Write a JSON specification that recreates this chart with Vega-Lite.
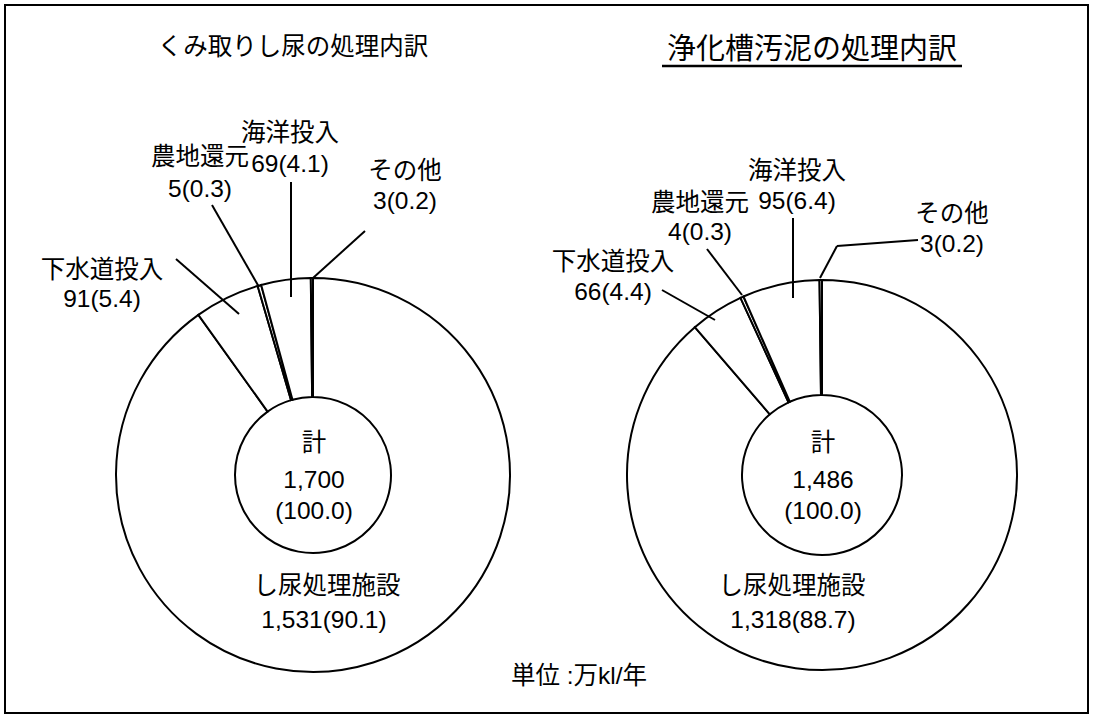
{
  "$schema": "https://vega.github.io/schema/vega-lite/v6.json",
  "width": 1093,
  "height": 718,
  "autosize": {"type": "fit", "contains": "padding"},
  "padding": 5,
  "background": "white",
  "config": {
    "view": {"stroke": "black", "strokeWidth": 2},
    "text": {"font": "Liberation Sans, Noto Sans CJK JP", "fontSize": 24.5, "color": "black", "align": "center", "baseline": "middle"},
    "rule": {"color": "black", "strokeWidth": 2}
  },
  "datasets": {
    "slices": [
      {"chart": "くみ取りし尿", "category": "し尿処理施設", "value": 1531, "pct": "1,531(90.1)", "order": 1},
      {"chart": "くみ取りし尿", "category": "下水道投入", "value": 91, "pct": "91(5.4)", "order": 2},
      {"chart": "くみ取りし尿", "category": "農地還元", "value": 5, "pct": "5(0.3)", "order": 3},
      {"chart": "くみ取りし尿", "category": "海洋投入", "value": 69, "pct": "69(4.1)", "order": 4},
      {"chart": "くみ取りし尿", "category": "その他", "value": 3, "pct": "3(0.2)", "order": 5},
      {"chart": "浄化槽汚泥", "category": "し尿処理施設", "value": 1318, "pct": "1,318(88.7)", "order": 1},
      {"chart": "浄化槽汚泥", "category": "下水道投入", "value": 66, "pct": "66(4.4)", "order": 2},
      {"chart": "浄化槽汚泥", "category": "農地還元", "value": 4, "pct": "4(0.3)", "order": 3},
      {"chart": "浄化槽汚泥", "category": "海洋投入", "value": 95, "pct": "95(6.4)", "order": 4},
      {"chart": "浄化槽汚泥", "category": "その他", "value": 3, "pct": "3(0.2)", "order": 5}
    ],
    "charts": [
      {"chart": "くみ取りし尿", "title": "くみ取りし尿の処理内訳", "total": "1,700", "share": "(100.0)"},
      {"chart": "浄化槽汚泥", "title": "浄化槽汚泥の処理内訳", "total": "1,486", "share": "(100.0)"}
    ]
  },
  "data": {"name": "slices"},
  "encoding": {
    "x": {"field": "chart", "type": "nominal", "axis": null, "scale": {"type": "point", "domain": ["くみ取りし尿", "浄化槽汚泥"], "range": [308, 817], "padding": 0}},
    "y": {"field": "chart", "type": "nominal", "axis": null, "scale": {"type": "point", "domain": ["くみ取りし尿", "浄化槽汚泥"], "range": [470, 470], "padding": 0}}
  },
  "layer": [
    {
      "transform": [{"filter": "datum.chart == 'くみ取りし尿'"}],
      "mark": {"type": "arc", "outerRadius": 197, "innerRadius": 78, "fill": "white", "stroke": "black", "strokeWidth": 2},
      "encoding": {
        "theta": {"field": "value", "type": "quantitative", "stack": "normalize"},
        "detail": {"field": "category"},
        "order": {"field": "order", "type": "quantitative"}
      }
    },
    {
      "transform": [{"filter": "datum.chart == '浄化槽汚泥'"}],
      "mark": {"type": "arc", "outerRadius": 195, "innerRadius": 80, "fill": "white", "stroke": "black", "strokeWidth": 2},
      "encoding": {
        "theta": {"field": "value", "type": "quantitative", "stack": "normalize"},
        "detail": {"field": "category"},
        "order": {"field": "order", "type": "quantitative"}
      }
    },
    {"transform": [{"filter": "datum.chart == 'くみ取りし尿' && datum.category == '下水道投入'"}], "mark": {"type": "rule", "xOffset": -137, "yOffset": -216, "x2Offset": -74, "y2Offset": -161}, "encoding": {"x2": {"field": "chart"}, "y2": {"field": "chart"}}},
    {"transform": [{"filter": "datum.chart == 'くみ取りし尿' && datum.category == '農地還元'"}], "mark": {"type": "rule", "xOffset": -101, "yOffset": -270, "x2Offset": -54, "y2Offset": -188}, "encoding": {"x2": {"field": "chart"}, "y2": {"field": "chart"}}},
    {"transform": [{"filter": "datum.chart == 'くみ取りし尿' && datum.category == '海洋投入'"}], "mark": {"type": "rule", "xOffset": -22, "yOffset": -293, "x2Offset": -22, "y2Offset": -178}, "encoding": {"x2": {"field": "chart"}, "y2": {"field": "chart"}}},
    {"transform": [{"filter": "datum.chart == 'くみ取りし尿' && datum.category == 'その他'"}], "mark": {"type": "rule", "xOffset": 52, "yOffset": -244, "x2Offset": 0, "y2Offset": -197}, "encoding": {"x2": {"field": "chart"}, "y2": {"field": "chart"}}},
    {"transform": [{"filter": "datum.chart == '浄化槽汚泥' && datum.category == '下水道投入'"}], "mark": {"type": "rule", "xOffset": -160, "yOffset": -185, "x2Offset": -107, "y2Offset": -155}, "encoding": {"x2": {"field": "chart"}, "y2": {"field": "chart"}}},
    {"transform": [{"filter": "datum.chart == '浄化槽汚泥' && datum.category == '農地還元'"}], "mark": {"type": "rule", "xOffset": -115, "yOffset": -226, "x2Offset": -80, "y2Offset": -180}, "encoding": {"x2": {"field": "chart"}, "y2": {"field": "chart"}}},
    {"transform": [{"filter": "datum.chart == '浄化槽汚泥' && datum.category == '海洋投入'"}], "mark": {"type": "rule", "xOffset": -29, "yOffset": -257, "x2Offset": -29, "y2Offset": -177}, "encoding": {"x2": {"field": "chart"}, "y2": {"field": "chart"}}},
    {"transform": [{"filter": "datum.chart == '浄化槽汚泥' && datum.category == 'その他'"}], "mark": {"type": "rule", "xOffset": 96, "yOffset": -235, "x2Offset": 15, "y2Offset": -229}, "encoding": {"x2": {"field": "chart"}, "y2": {"field": "chart"}}},
    {"transform": [{"filter": "datum.chart == '浄化槽汚泥' && datum.category == 'その他'"}], "mark": {"type": "rule", "xOffset": 15, "yOffset": -229, "x2Offset": -2, "y2Offset": -197}, "encoding": {"x2": {"field": "chart"}, "y2": {"field": "chart"}}},

    {"transform": [{"filter": "datum.chart == 'くみ取りし尿' && datum.category == '下水道投入'"}], "mark": {"type": "text", "dx": -211, "dy": -204}, "encoding": {"text": {"field": "category"}}},
    {"transform": [{"filter": "datum.chart == 'くみ取りし尿' && datum.category == '下水道投入'"}], "mark": {"type": "text", "dx": -211, "dy": -175}, "encoding": {"text": {"field": "pct"}}},
    {"transform": [{"filter": "datum.chart == 'くみ取りし尿' && datum.category == '農地還元'"}], "mark": {"type": "text", "dx": -113, "dy": -317}, "encoding": {"text": {"field": "category"}}},
    {"transform": [{"filter": "datum.chart == 'くみ取りし尿' && datum.category == '農地還元'"}], "mark": {"type": "text", "dx": -113, "dy": -285}, "encoding": {"text": {"field": "pct"}}},
    {"transform": [{"filter": "datum.chart == 'くみ取りし尿' && datum.category == '海洋投入'"}], "mark": {"type": "text", "dx": -23, "dy": -341}, "encoding": {"text": {"field": "category"}}},
    {"transform": [{"filter": "datum.chart == 'くみ取りし尿' && datum.category == '海洋投入'"}], "mark": {"type": "text", "dx": -23, "dy": -310}, "encoding": {"text": {"field": "pct"}}},
    {"transform": [{"filter": "datum.chart == 'くみ取りし尿' && datum.category == 'その他'"}], "mark": {"type": "text", "dx": 92, "dy": -303}, "encoding": {"text": {"field": "category"}}},
    {"transform": [{"filter": "datum.chart == 'くみ取りし尿' && datum.category == 'その他'"}], "mark": {"type": "text", "dx": 92, "dy": -273}, "encoding": {"text": {"field": "pct"}}},
    {"transform": [{"filter": "datum.chart == 'くみ取りし尿' && datum.category == 'し尿処理施設'"}], "mark": {"type": "text", "dx": 14, "dy": 112}, "encoding": {"text": {"field": "category"}}},
    {"transform": [{"filter": "datum.chart == 'くみ取りし尿' && datum.category == 'し尿処理施設'"}], "mark": {"type": "text", "dx": 11, "dy": 146}, "encoding": {"text": {"field": "pct"}}},

    {"transform": [{"filter": "datum.chart == '浄化槽汚泥' && datum.category == '下水道投入'"}], "mark": {"type": "text", "dx": -209, "dy": -212}, "encoding": {"text": {"field": "category"}}},
    {"transform": [{"filter": "datum.chart == '浄化槽汚泥' && datum.category == '下水道投入'"}], "mark": {"type": "text", "dx": -209, "dy": -182}, "encoding": {"text": {"field": "pct"}}},
    {"transform": [{"filter": "datum.chart == '浄化槽汚泥' && datum.category == '農地還元'"}], "mark": {"type": "text", "dx": -122, "dy": -271}, "encoding": {"text": {"field": "category"}}},
    {"transform": [{"filter": "datum.chart == '浄化槽汚泥' && datum.category == '農地還元'"}], "mark": {"type": "text", "dx": -122, "dy": -242}, "encoding": {"text": {"field": "pct"}}},
    {"transform": [{"filter": "datum.chart == '浄化槽汚泥' && datum.category == '海洋投入'"}], "mark": {"type": "text", "dx": -25, "dy": -303}, "encoding": {"text": {"field": "category"}}},
    {"transform": [{"filter": "datum.chart == '浄化槽汚泥' && datum.category == '海洋投入'"}], "mark": {"type": "text", "dx": -25, "dy": -273}, "encoding": {"text": {"field": "pct"}}},
    {"transform": [{"filter": "datum.chart == '浄化槽汚泥' && datum.category == 'その他'"}], "mark": {"type": "text", "dx": 130, "dy": -260}, "encoding": {"text": {"field": "category"}}},
    {"transform": [{"filter": "datum.chart == '浄化槽汚泥' && datum.category == 'その他'"}], "mark": {"type": "text", "dx": 130, "dy": -230}, "encoding": {"text": {"field": "pct"}}},
    {"transform": [{"filter": "datum.chart == '浄化槽汚泥' && datum.category == 'し尿処理施設'"}], "mark": {"type": "text", "dx": -30, "dy": 112}, "encoding": {"text": {"field": "category"}}},
    {"transform": [{"filter": "datum.chart == '浄化槽汚泥' && datum.category == 'し尿処理施設'"}], "mark": {"type": "text", "dx": -29, "dy": 146}, "encoding": {"text": {"field": "pct"}}},

    {"data": {"name": "charts"}, "mark": {"type": "text", "dx": 1, "dy": -31}, "encoding": {"text": {"value": "計"}}},
    {"data": {"name": "charts"}, "mark": {"type": "text", "dx": 1, "dy": 6}, "encoding": {"text": {"field": "total"}}},
    {"data": {"name": "charts"}, "mark": {"type": "text", "dx": 1, "dy": 37}, "encoding": {"text": {"field": "share"}}},
    {"data": {"name": "charts"}, "transform": [{"filter": "datum.chart == 'くみ取りし尿'"}], "mark": {"type": "text", "dx": -20, "dy": -427, "fontSize": 24.5}, "encoding": {"text": {"field": "title"}}},
    {"data": {"name": "charts"}, "transform": [{"filter": "datum.chart == '浄化槽汚泥'"}], "mark": {"type": "text", "dx": -10, "dy": -425, "fontSize": 29}, "encoding": {"text": {"field": "title"}}},
    {"data": {"name": "charts"}, "transform": [{"filter": "datum.chart == '浄化槽汚泥'"}], "mark": {"type": "rule", "strokeWidth": 2.5, "xOffset": -160, "yOffset": -409, "x2Offset": 140, "y2Offset": -409}, "encoding": {"x2": {"field": "chart"}, "y2": {"field": "chart"}}},
    {"data": {"name": "charts"}, "transform": [{"filter": "datum.chart == 'くみ取りし尿'"}], "mark": {"type": "text", "dx": 266, "dy": 202}, "encoding": {"text": {"value": "単位 :万kl/年"}}}
  ]
}
